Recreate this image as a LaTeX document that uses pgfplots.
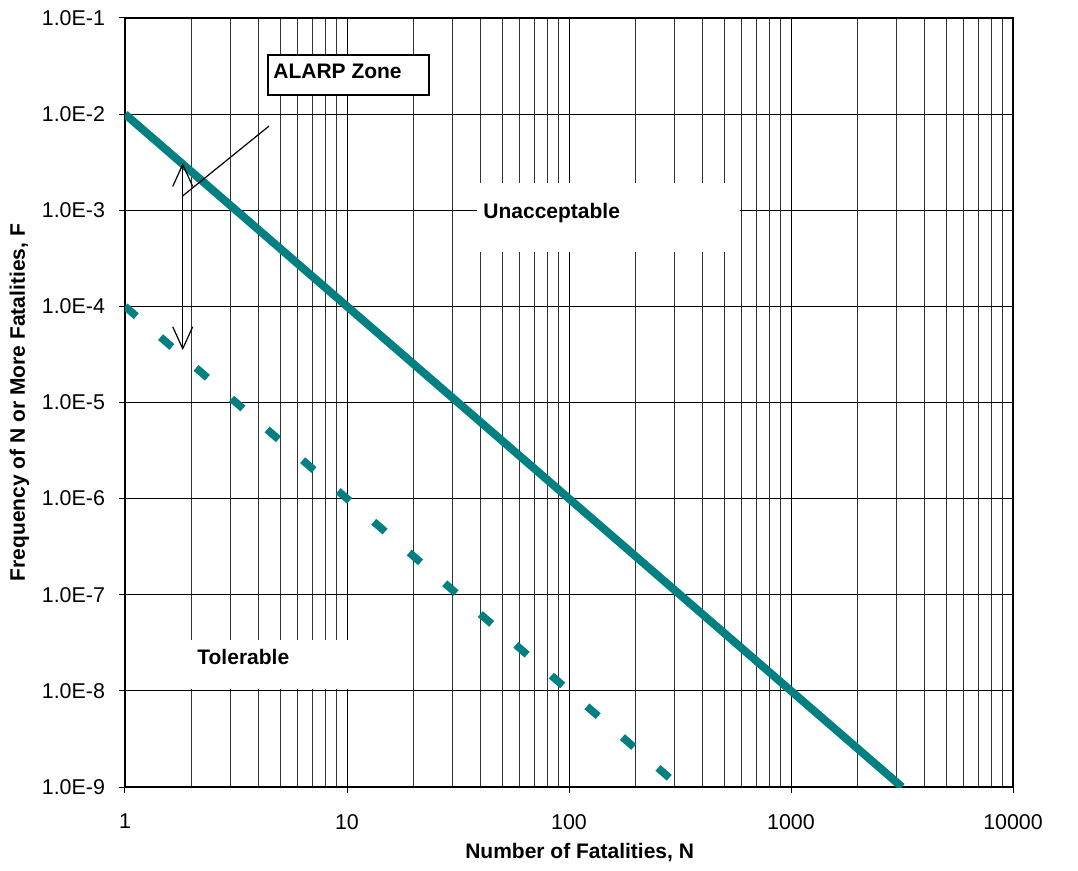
\documentclass[border=0pt]{standalone}
\usepackage{fontspec}
\setmainfont{Liberation Sans}
\usepackage{pgfplots}
\pgfplotsset{compat=1.18}
\usetikzlibrary{arrows.meta}
\definecolor{fnteal}{RGB}{0,128,128}

\begin{document}
\begin{tikzpicture}
\path[use as bounding box] (-62.5pt,-42pt) rectangle (476.5pt,393.5pt);
\begin{axis}[
    at={(0,0)}, anchor=south west,
    scale only axis,
    width=444pt, height=384.5pt,
    xmode=log, ymode=log,
    xmin=1, xmax=10000, ymin=1e-9, ymax=1e-1,
    xtick={1,10,100,1000,10000},
    xticklabels={1,10,100,1000,10000},
    ytick={1e-9,1e-8,1e-7,1e-6,1e-5,1e-4,1e-3,1e-2,1e-1},
    yticklabels={1.0E-9,1.0E-8,1.0E-7,1.0E-6,1.0E-5,1.0E-4,1.0E-3,1.0E-2,1.0E-1},
    yminorticks=false,
    xmajorgrids=true, xminorgrids=true, ymajorgrids=true,
    major grid style={black, line width=0.5pt},
    minor grid style={black!80, line width=0.5pt},
    tick align=outside, tick pos=left,
    major tick length=3pt, minor tick length=0pt,
    tick style={black, line width=0.5pt},
    axis line style={line width=0.6pt},
    tick label style={font=\fontsize{10.7}{12}\selectfont},
    xticklabel style={yshift=-7pt},
    yticklabel style={xshift=-3.5pt},
    label style={font=\bfseries\fontsize{10.5}{12}\selectfont},
    xlabel={Number of Fatalities, N},
    ylabel={Frequency of N or More Fatalities, F},
    xlabel style={at={(axis description cs:0.512,-0.0858)}, anchor=center},
    ylabel style={at={(axis description cs:-0.119,0.5)}, anchor=center},
]

% text boxes hiding the grid
\fill[white] (axis cs:38.5,1.92e-3) rectangle (axis cs:589,3.68e-4);
\fill[white] (axis cs:1.75,3.38e-8) rectangle (axis cs:15,1.04e-8);

% F = 1e-2 / N^2 (upper limit)
\addplot[fnteal, line width=4pt] coordinates {(1,1e-2) (3162.28,1e-9)};
% F = 1e-4 / N^2 (lower limit)
\addplot[fnteal, line width=3.8pt, dash pattern=on 7.5pt off 16pt] coordinates {(1,1e-4) (316.228,1e-9)};

\node[anchor=west, inner sep=0pt, font=\bfseries\fontsize{10.5}{12}\selectfont] at (axis cs:41,9.35e-4) {Unacceptable};
\node[anchor=west, inner sep=0pt, font=\bfseries\fontsize{10.5}{12}\selectfont] at (axis cs:2.11,2.25e-8) {Tolerable};

% ALARP annotation
\draw[black, line width=0.6pt, {Straight Barb[length=11pt,width=10pt]}-{Straight Barb[length=11pt,width=10pt]}]
    (axis cs:1.82,3.1e-3) -- (axis cs:1.82,3.5e-5);
\draw[black, line width=0.6pt] (axis cs:1.82,1.41e-3) -- (axis cs:4.45,7.5e-3);
\filldraw[fill=white, draw=black, line width=0.7pt] (axis cs:4.41,0.0412) rectangle (axis cs:23.4,0.0158);
\node[anchor=west, inner sep=0pt, font=\bfseries\fontsize{10.5}{12}\selectfont] at (axis cs:4.64,0.0281) {ALARP Zone};
\end{axis}
\end{tikzpicture}
\end{document}
